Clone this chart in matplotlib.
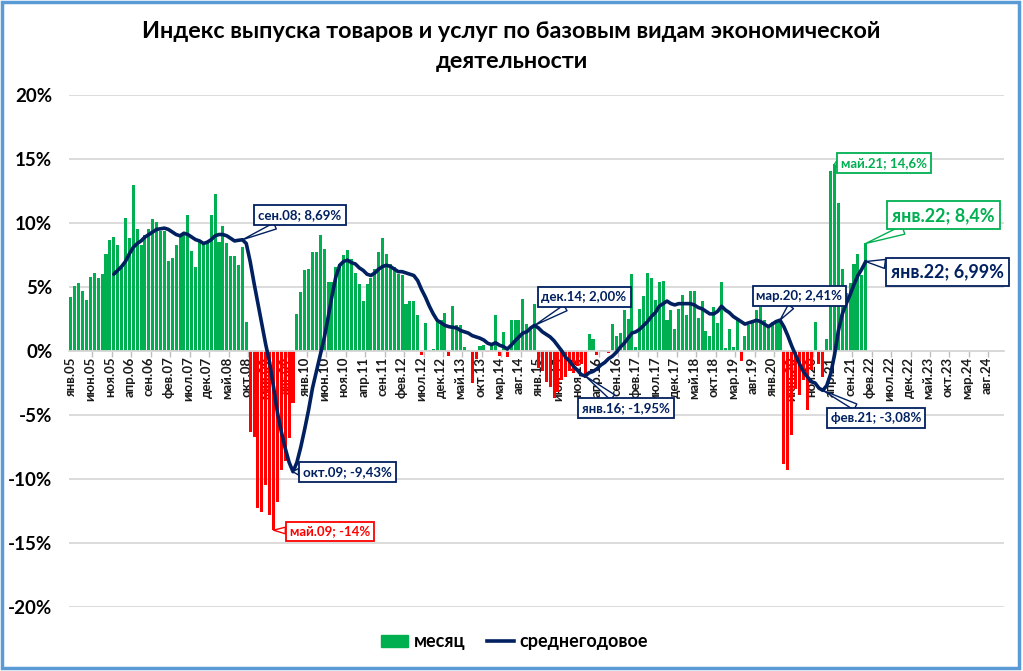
import matplotlib
matplotlib.use('Agg')
import matplotlib.pyplot as plt
from matplotlib.patches import Patch, Rectangle
from matplotlib.lines import Line2D
import numpy as np

plt.rcParams['font.family'] = ['Lato', 'DejaVu Sans']
plt.rcParams['font.weight'] = 'bold'

# подписи оси X (каждый 5-й месяц, янв.05 ... авг.24)
tick_labels = ['янв.05', 'июн.05', 'ноя.05', 'апр.06', 'сен.06', 'фев.07', 'июл.07', 'дек.07',
               'май.08', 'окт.08', 'мар.09', 'авг.09', 'янв.10', 'июн.10', 'ноя.10', 'апр.11',
               'сен.11', 'фев.12', 'июл.12', 'дек.12', 'май.13', 'окт.13', 'мар.14', 'авг.14',
               'янв.15', 'июн.15', 'ноя.15', 'апр.16', 'сен.16', 'фев.17', 'июл.17', 'дек.17',
               'май.18', 'окт.18', 'мар.19', 'авг.19', 'янв.20', 'июн.20', 'ноя.20', 'апр.21',
               'сен.21', 'фев.22', 'июл.22', 'дек.22', 'май.23', 'окт.23', 'мар.24', 'авг.24']
n_slots = 240  # янв.05 - дек.24

# месяц, % (янв.05 - янв.22)
month_vals = [
    4.2, 5.1, 5.3, 4.7, 4.0, 5.8, 6.1, 5.7, 6.0, 7.6, 8.7, 8.9,
    8.3, 6.5, 10.4, 8.8, 13.0, 9.5, 8.3, 9.1, 9.5, 10.3, 10.1, 9.4,
    9.4, 7.0, 7.3, 8.3, 9.0, 9.2, 10.6, 7.8, 6.6, 8.5, 8.5, 8.5,
    10.6, 12.3, 8.5, 9.8, 8.4, 7.4, 7.4, 6.7, 8.1, 2.3, -6.3, -6.7,
    -12.3, -12.6, -10.5, -12.8, -14.0, -11.8, -9.3, -8.6, -6.8, -4.1, 2.9, 4.6,
    6.3, 6.4, 7.7, 7.7, 9.1, 8.0, 5.4, 5.4, 6.6, 6.8, 7.5, 7.9,
    7.2, 6.1, 5.2, 3.9, 5.2, 5.7, 6.4, 7.7, 8.8, 7.6, 6.8, 6.6,
    6.0, 5.9, 3.7, 3.9, 3.9, 2.8, -0.3, 2.2, 0.1, 0.15, 2.4, 2.4,
    3.0, -0.4, 3.5, 2.0, 2.0, 0.35, 0.1, -2.5, -0.6, 0.4, 0.5, -0.1,
    0.6, 2.8, -0.4, 1.5, -0.5, 2.4, 2.4, 2.4, 4.1, 2.1, 1.8, 3.7,
    -1.3, -1.6, -2.4, -2.8, -3.7, -3.2, -2.3, -2.0, -1.6, -1.7, -1.2, -1.0,
    -2.1, 1.3, 0.9, -0.3, 0.1, 0.05, -0.15, 2.1, 1.2, 1.4, 3.2, 2.5,
    6.0, 0.3, 3.3, 4.3, 6.1, 5.7, 4.0, 5.4, 5.5, 2.4, 3.2, 1.7,
    3.3, 4.4, 2.8, 4.7, 4.7, 2.6, 3.9, 1.6, 1.2, 3.4, 2.2, 5.4,
    0.2, 1.7, 0.3, 2.6, -0.8, 1.2, 2.0, 2.4, 3.2, 3.4, 2.4, 1.8,
    2.3, 2.4, 2.5, -8.8, -9.3, -6.6, -3.0, -3.4, -2.3, -4.6, -1.5, 2.3,
    -1.0, -2.0, 0.9, 14.1, 14.6, 11.6, 6.4, 4.5, 5.3, 6.8, 7.6, 5.9,
    8.4,
]

# среднегодовое, % (дек.05 - янв.22)
avg_start = 11
avg_vals = [
    6.0, 6.3, 6.6, 7.0, 7.6, 8.1, 8.4, 8.6, 8.9, 9.1, 9.3, 9.5,
    9.55, 9.6, 9.5, 9.3, 9.1, 9.0, 9.2, 9.1, 8.9, 8.7, 8.6, 8.4,
    8.5, 8.7, 9.0, 9.1, 9.1, 9.0, 8.8, 8.6, 8.65, 8.69, 8.4, 7.0,
    5.3, 3.7, 2.1, 0.5, -0.9, -2.8, -4.8, -6.3, -7.6, -8.7, -9.43,
    -8.7, -7.5, -6.1, -4.6, -2.9, -1.6, -0.3, 1.0, 2.6, 4.3, 5.8, 6.7,
    7.0, 7.1, 6.9, 6.8, 6.5, 6.3, 6.0, 5.9, 6.1, 6.4, 6.6, 6.7,
    6.6, 6.4, 6.2, 6.2, 6.1, 6.0, 5.9, 5.5, 4.8, 4.2, 3.5, 2.9, 2.4,
    2.2, 2.0, 1.9, 1.85, 1.8, 1.6, 1.5, 1.4, 1.2, 1.1, 1.0, 0.85,
    0.6, 0.5, 0.65, 0.45, 0.35, 0.15, 0.45, 0.8, 1.1, 1.4, 1.5, 1.8,
    2.0, 1.8, 1.5, 1.3, 1.1, 0.8, 0.4, 0.0, -0.5, -0.8, -1.2, -1.5,
    -1.85, -1.95,
    -1.7, -1.6, -1.4, -1.1, -0.9, -0.6, -0.4, -0.1, 0.3, 0.6, 1.0, 1.4,
    1.5, 1.7, 2.0, 2.3, 2.7, 3.0, 3.5, 3.7, 3.9, 3.7, 3.6, 3.7,
    3.7, 3.7, 3.7, 3.6, 3.4, 3.3, 3.1, 2.9, 2.9, 3.1, 3.5, 3.2,
    3.0, 2.7, 2.5, 2.3, 2.1, 2.2, 2.3, 2.4, 2.3, 2.1, 1.9, 2.1,
    2.3, 2.41,
    1.9, 1.2, 0.4, -0.3, -1.0, -1.6, -2.0, -2.4, -2.5, -2.9, -3.08,
    -2.7, -1.8, -0.3, 1.6, 2.9, 3.7, 4.4, 5.2, 5.9, 6.4, 6.99,
]

GREEN = '#00B050'
RED = '#FF0000'
NAVY = '#002060'

fig = plt.figure(figsize=(10.23, 6.71), dpi=100)
ax = fig.add_axes([69 / 1023, 1 - 607 / 671, 935 / 1023, 512 / 671])

x = np.arange(len(month_vals))
colors = [GREEN if v >= 0 else RED for v in month_vals]
ax.bar(x, month_vals, width=0.78, color=colors, zorder=2)
ax.plot(np.arange(avg_start, avg_start + len(avg_vals)), avg_vals, color=NAVY, lw=2.6,
        solid_capstyle='round', zorder=3)

ax.set_xlim(-0.5, n_slots - 0.5)
ax.set_ylim(-20, 20)
ax.set_yticks(range(-20, 21, 5))
ax.set_yticklabels([f'{v}%' for v in range(-20, 21, 5)])
ax.yaxis.grid(True, color='#D9D9D9', lw=1.3)
ax.set_axisbelow(True)
for s in ['top', 'right', 'left']:
    ax.spines[s].set_visible(False)
ax.spines['bottom'].set_position(('data', 0))
ax.spines['bottom'].set_color('#D9D9D9')
ax.spines['bottom'].set_linewidth(1.3)

ax.set_xticks(range(0, n_slots, 5))
ax.set_xticklabels(tick_labels, rotation=90, fontsize=9.5, color='#1a1a1a')
ax.set_xticks(np.arange(5.5, n_slots, 5), minor=True)
ax.tick_params(axis='x', which='major', length=0, pad=4)
ax.tick_params(axis='x', which='minor', length=4, color='#BFBFBF', width=1)
ax.tick_params(axis='y', length=0, labelsize=13.5, pad=12)


def callout(text, xy, xytext, color, size=9.5):
    ax.annotate(text, xy=xy, xytext=xytext, textcoords='data', color=color,
                fontsize=size, fontweight='bold', ha='center', va='center',
                bbox=dict(boxstyle='square,pad=0.3', fc='white', ec=color, lw=1.3),
                arrowprops=dict(arrowstyle='wedge,tail_width=0.5,shrink_factor=0.5',
                                fc='white', ec=color, lw=1, shrinkA=0, shrinkB=0),
                zorder=6)


callout('сен.08; 8,69%', (44, 8.69), (58.8, 10.6), NAVY)
callout('окт.09; -9,43%', (57, -9.43), (71, -9.45), NAVY)
callout('май.09; -14%', (52, -14.0), (66.5, -14.1), RED)
callout('дек.14; 2,00%', (119, 2.0), (131.7, 4.2), NAVY)
callout('янв.16; -1,95%', (132, -1.95), (142.5, -4.45), NAVY)
callout('мар.20; 2,41%', (182, 2.41), (187, 4.3), NAVY)
callout('фев.21; -3,08%', (193, -3.08), (206.7, -5.2), NAVY)
callout('май.21; 14,6%', (196, 14.6), (208.8, 14.7), GREEN)
callout('янв.22; 8,4%', (204, 8.4), (224, 10.6), GREEN, size=13)
callout('янв.22; 6,99%', (204, 6.99), (225, 6.2), NAVY, size=13)

fig.text(0.5, 1 - 31 / 671, 'Индекс выпуска товаров и услуг по базовым видам экономической',
         ha='center', va='center', fontsize=16.8, fontweight='bold')
fig.text(0.5, 1 - 61 / 671, 'деятельности',
         ha='center', va='center', fontsize=16.8, fontweight='bold')

handles = [Patch(color=GREEN), Line2D([0], [0], color=NAVY, lw=2.6)]
fig.legend(handles, ['месяц', 'среднегодовое'], loc='center',
           bbox_to_anchor=(0.503, 1 - 642 / 671), ncol=2, frameon=False,
           fontsize=13, handlelength=1.5, handleheight=0.6, columnspacing=1.2,
           handletextpad=0.3)

fig.patches.append(Rectangle((0.002, 0.004), 0.994, 0.993, transform=fig.transFigure,
                             fill=False, ec='#5B9BD5', lw=2.5))

fig.savefig('out.png', dpi=100)
